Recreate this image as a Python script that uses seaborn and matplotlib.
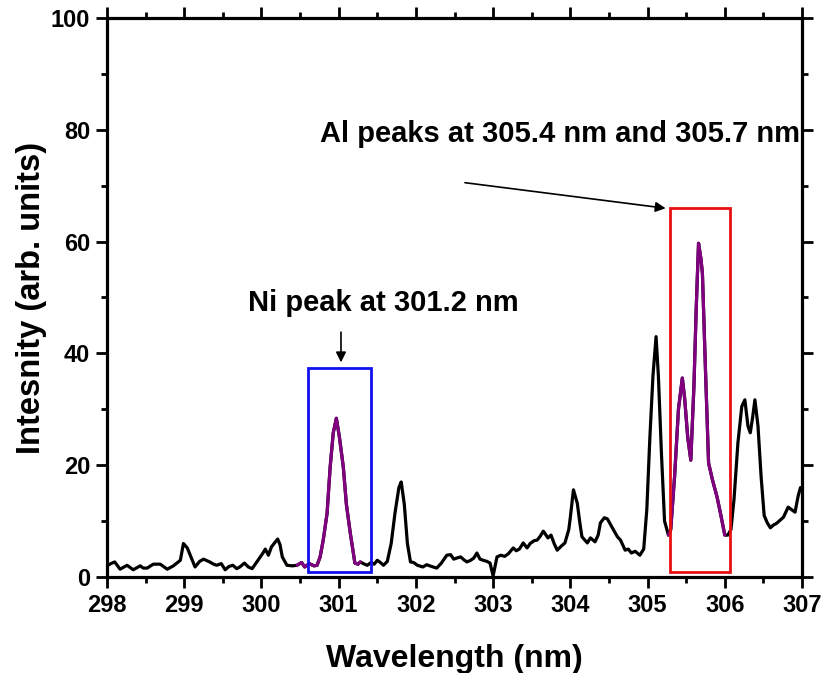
import numpy as np
import pandas as pd
import matplotlib
matplotlib.use("Agg")
import matplotlib.pyplot as plt
from matplotlib.patches import Rectangle
from matplotlib.ticker import MultipleLocator
import seaborn as sns

wavelength = [298.00, 298.05, 298.10, 298.17, 298.22, 298.26, 298.34, 298.43, 298.47, 298.52,
              298.60, 298.69, 298.78, 298.86, 298.95, 298.99, 299.04, 299.09, 299.14, 299.20,
              299.25, 299.33, 299.38, 299.42, 299.48, 299.53, 299.58, 299.63, 299.68, 299.72,
              299.78, 299.83, 299.88, 299.94, 300.02, 300.05, 300.09, 300.13, 300.17, 300.21,
              300.24, 300.27, 300.33, 300.40, 300.46, 300.52, 300.56, 300.62, 300.68, 300.72,
              300.76, 300.80, 300.85, 300.89, 300.93, 300.97, 301.01, 301.06, 301.10, 301.15,
              301.21, 301.25, 301.28, 301.32, 301.37, 301.42, 301.46, 301.50, 301.54, 301.58,
              301.63, 301.68, 301.73, 301.78, 301.81, 301.85, 301.89, 301.93, 301.97, 302.02,
              302.09, 302.14, 302.20, 302.27, 302.33, 302.40, 302.45, 302.49, 302.53, 302.58,
              302.62, 302.66, 302.71, 302.75, 302.79, 302.83, 302.87, 302.92, 302.96, 303.00,
              303.05, 303.10, 303.15, 303.20, 303.26, 303.30, 303.34, 303.39, 303.44, 303.48,
              303.53, 303.57, 303.61, 303.65, 303.71, 303.75, 303.79, 303.83, 303.88, 303.93,
              303.98, 304.00, 304.04, 304.09, 304.12, 304.15, 304.22, 304.26, 304.32, 304.36,
              304.39, 304.44, 304.48, 304.56, 304.61, 304.65, 304.71, 304.75, 304.79, 304.84,
              304.90, 304.95, 304.99, 305.03, 305.07, 305.11, 305.14, 305.18, 305.22, 305.27,
              305.30, 305.35, 305.40, 305.45, 305.48, 305.52, 305.56, 305.60, 305.63, 305.66,
              305.69, 305.71, 305.75, 305.79, 305.84, 305.90, 305.95, 306.00, 306.04, 306.08,
              306.12, 306.17, 306.22, 306.26, 306.30, 306.33, 306.36, 306.39, 306.43, 306.47,
              306.51, 306.55, 306.59, 306.63, 306.67, 306.72, 306.76, 306.82, 306.87, 306.91,
              306.95, 306.98, 307.00]
intensity = [2.0, 2.4, 2.7, 1.4, 1.8, 2.1, 1.3, 2.0, 1.6, 1.6,
             2.3, 2.3, 1.4, 2.0, 3.0, 6.0, 5.2, 3.5, 1.8, 2.8,
             3.2, 2.7, 2.3, 2.1, 2.4, 1.3, 1.9, 2.1, 1.5, 1.8,
             2.5, 1.8, 1.5, 2.7, 4.3, 5.0, 3.9, 5.4, 6.1, 6.8,
             5.8, 3.6, 2.1, 2.0, 2.1, 2.6, 1.8, 2.4, 2.0, 2.1,
             3.6, 6.6, 11.4, 19.7, 25.8, 28.4, 25.0, 19.7, 13.0, 7.9,
             2.5, 2.3, 2.7, 2.4, 2.1, 2.6, 2.3, 3.0, 2.6, 2.1,
             2.8, 6.0, 11.5, 16.0, 17.0, 13.0, 6.0, 2.7, 2.6, 2.1,
             1.8, 2.2, 1.9, 1.6, 2.5, 3.9, 4.0, 3.2, 3.4, 3.6,
             3.1, 2.7, 3.0, 3.4, 4.3, 3.2, 3.0, 2.8, 2.5, 0.2,
             3.6, 3.9, 3.7, 4.2, 5.2, 4.7, 5.0, 6.1, 5.2, 6.0,
             6.5, 6.6, 7.3, 8.2, 7.0, 7.5, 6.0, 4.8, 5.5, 6.1,
             8.5, 10.7, 15.6, 13.2, 10.0, 7.2, 6.1, 7.0, 6.3, 7.5,
             9.7, 10.6, 10.4, 8.4, 7.2, 6.6, 4.8, 5.0, 4.3, 4.6,
             3.9, 5.0, 12.0, 25.0, 36.0, 43.0, 36.0, 22.0, 10.0, 7.5,
             8.5, 18.0, 30.0, 35.6, 32.0, 25.0, 20.9, 34.0, 48.0, 59.7,
             57.0, 54.4, 37.0, 20.4, 17.4, 14.3, 11.0, 7.5, 7.5, 8.5,
             14.0, 24.0, 30.5, 31.7, 27.0, 25.8, 28.5, 31.7, 27.0, 18.0,
             11.0, 9.7, 8.8, 9.3, 9.6, 10.2, 10.7, 12.5, 12.0, 11.6,
             14.5, 16.0, 15.6]

ni_range = (300.46, 301.28)
al_range = (305.27, 306.00)
ni_box = (300.60, 301.42, 0.9, 37.4)
al_box = (305.29, 306.07, 0.9, 66.0)

x_ticks = [298, 299, 300, 301, 302, 303, 304, 305, 306, 307]
y_ticks = [0, 20, 40, 60, 80, 100]

df = pd.DataFrame({"wl": wavelength, "I": intensity})

sns.set_style("ticks")
plt.rcParams['font.family'] = ['Liberation Sans', 'DejaVu Sans']
plt.rcParams['font.weight'] = 'bold'
plt.rcParams['text.color'] = 'black'
plt.rcParams['axes.labelcolor'] = 'black'
plt.rcParams['xtick.color'] = 'black'
plt.rcParams['ytick.color'] = 'black'
plt.rcParams['axes.edgecolor'] = 'black'

fig = plt.figure(figsize=(8.23, 6.73), dpi=100)
ax = fig.add_axes([0.130, 0.1426, 0.8445, 0.8307])

sns.lineplot(data=df, x="wl", y="I", color="black", linewidth=2.3, ax=ax, sort=False)
ni = df[(df.wl >= ni_range[0]) & (df.wl <= ni_range[1])]
al = df[(df.wl >= al_range[0]) & (df.wl <= al_range[1])]
sns.lineplot(data=ni, x="wl", y="I", color="#800080", linewidth=2.3, ax=ax, sort=False)
sns.lineplot(data=al, x="wl", y="I", color="#800080", linewidth=2.3, ax=ax, sort=False)

for (x0, x1, y0, y1), col in [(ni_box, "#1010F0"), (al_box, "#E81010")]:
    ax.add_patch(Rectangle((x0, y0), x1 - x0, y1 - y0, fill=False,
                           edgecolor=col, linewidth=2.0, zorder=5))

ax.set_xlim(298, 307)
ax.set_ylim(0, 100)
ax.set_xticks(x_ticks)
ax.set_yticks(y_ticks)
ax.xaxis.set_minor_locator(MultipleLocator(0.5))
ax.yaxis.set_minor_locator(MultipleLocator(10))
ax.tick_params(which='both', direction='out', width=2, top=True, right=True,
               labeltop=False, labelright=False, labelsize=17, colors='black')
ax.tick_params(which='major', length=8, pad=4)
ax.tick_params(which='minor', length=4)
for lab in ax.get_xticklabels() + ax.get_yticklabels():
    lab.set_fontweight('bold')
for sp in ax.spines.values():
    sp.set_visible(True)
    sp.set_linewidth(2.3)
    sp.set_color('black')

ax.set_xlabel("Wavelength (nm)", fontsize=23, fontweight='bold', labelpad=20, color='black')
ax.set_ylabel("Intesnity (arb. units)", fontsize=23.5, fontweight='bold', labelpad=3, color='black')

ax.text(301.58, 49.0, "Ni peak at 301.2 nm", ha='center', va='center',
        fontsize=21, fontweight='bold', color='black')
ax.annotate("", xy=(301.03, 37.9), xytext=(301.03, 44.3),
            arrowprops=dict(arrowstyle="-|>", color="black", lw=1.2, mutation_scale=15))
ax.text(303.87, 79.2, "Al peaks at 305.4 nm and 305.7 nm", ha='center', va='center',
        fontsize=21, fontweight='bold', color='black')
ax.annotate("", xy=(305.27, 65.9), xytext=(302.60, 70.6),
            arrowprops=dict(arrowstyle="-|>", color="black", lw=1.2, mutation_scale=15))

fig.savefig("out.png", dpi=100)
